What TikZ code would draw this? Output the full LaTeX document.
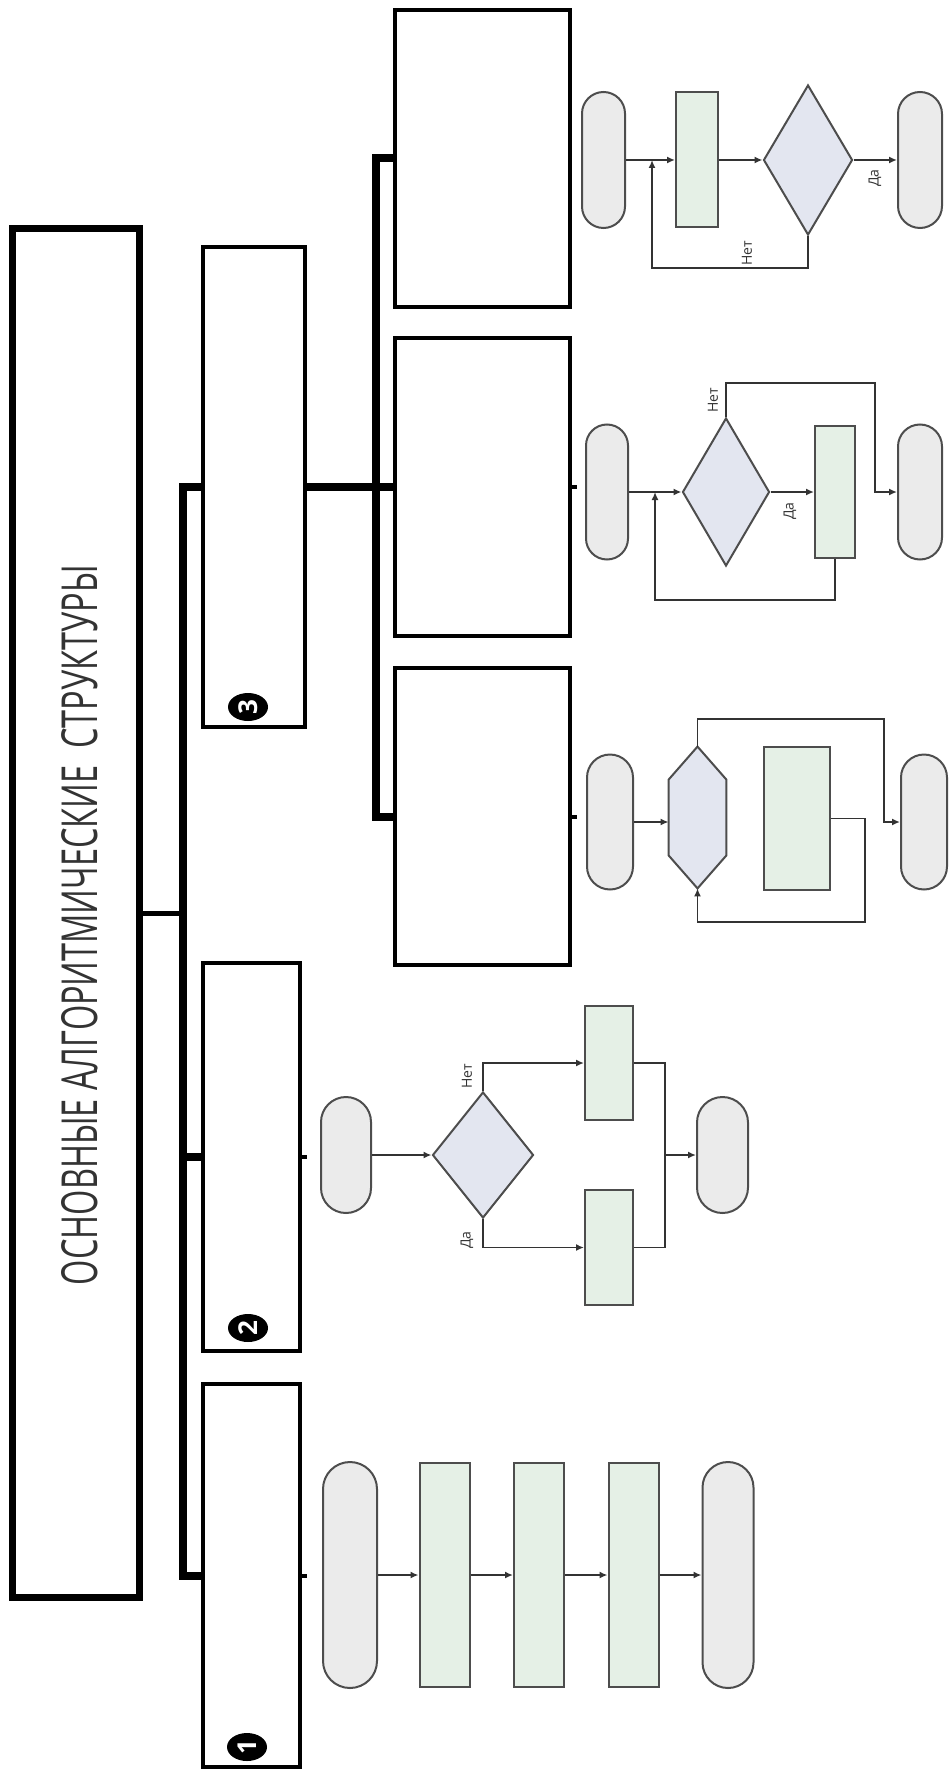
\documentclass[tikz,border=0pt]{standalone}
\usepackage{fontspec}
\usepackage{graphicx}
\setmainfont{Open Sans}
\usetikzlibrary{arrows.meta,shapes.geometric}
\definecolor{termfill}{HTML}{EBEBEB}
\definecolor{procfill}{HTML}{E5F0E6}
\definecolor{condfill}{HTML}{E3E6F0}
\definecolor{shapeline}{HTML}{4D4D4D}
\definecolor{flowline}{HTML}{333333}
\definecolor{titletext}{HTML}{333333}

\tikzset{
	group/.style={draw, line width=2pt, inner sep=0pt},
	bus/.style={line width=4pt},
	term/.style 2 args={draw=shapeline, fill=termfill, line width=1pt, inner sep=0pt,
		minimum width=#1, minimum height=#2, rounded corners=0.5*#1},
	proc/.style 2 args={draw=shapeline, fill=procfill, line width=1pt, inner sep=0pt,
		minimum width=#1, minimum height=#2},
	cond/.style 2 args={diamond, draw=shapeline, fill=condfill, line width=1pt, inner sep=0pt,
		minimum width=#1, minimum height=#2},
	wire/.style={draw=flowline, line width=0.8pt},
	arr/.style={wire, -{Latex[length=4pt,width=3.5pt]}},
	lbl/.style={rotate=90, inner sep=0pt, text=flowline, font=\fontsize{7}{8}\selectfont},
	badge/.style={ellipse, fill=black, text=white, rotate=90, inner sep=0pt,
		minimum width=14pt, minimum height=20pt, font=\fontsize{13}{13}\selectfont\bfseries}
}

\begin{document}
\begin{tikzpicture}[x=0.5pt, y=-0.5pt]
	\useasboundingbox (0,0) rectangle (948,1775);
	% title
	\node[draw, line width=3.5pt, inner sep=0pt, minimum width=63.5pt, minimum height=684pt] (title) at (75.5,913) {};
	\node[rotate=90, inner sep=0pt, text=titletext] (titleText) at (80,925)
		{\resizebox{360pt}{18pt}{ОСНОВНЫЕ АЛГОРИТМИЧЕСКИЕ~ СТРУКТУРЫ}};
	% level 2
	\node[group, minimum width=48.5pt, minimum height=191.5pt] (lvSeq) at (251.5,1575.5) {};
	\node[group, minimum width=48.5pt, minimum height=194pt] (lvBranch) at (251.5,1157) {};
	\node[group, minimum width=51pt, minimum height=240pt] (lvLoop) at (254,487) {};
	\node[badge] (numSeq) at (247,1747) {1};
	\node[badge] (numBranch) at (248,1328) {2};
	\node[badge] (numLoop) at (248,707) {3};
	% level 3
	\foreach \y/\n in {158.5/lvRepeat, 487/lvWhile, 816.5/lvFor}{
		\node[group, minimum width=87.5pt, minimum height=148.5pt] (\n) at (482.5,\y) {};
	}
	% buses
	\coordinate (busA) at (183,913);
	\coordinate (busB) at (376,487);
	\draw[bus] (lvLoop.west) -| (busA) |- (lvSeq.west);
	\draw[bus] (busA |- lvBranch.west) -- (lvBranch.west);
	\draw[line width=2.5pt] (title.east) -- (busA);
	\draw[bus] (lvLoop.east) -- (lvWhile.west);
	\draw[bus] (lvRepeat.west) -| (busB) |- (lvFor.west);
	\foreach \n in {lvSeq, lvBranch, lvWhile, lvFor}{
		\draw[line width=2pt] (\n.east) -- ++(5,0);
	}

	% sequence
	\node[term={27pt}{113pt}] (sqStart) at (350,1575) {};
	\foreach \i in {1,2,3}{
		\node[proc={25pt}{112pt}] (sqP\i) at (350+94.5*\i,1575) {};
	}
	\node[term={25.5pt}{113pt}] (sqEnd) at (728,1575) {};
	\foreach \a/\b in {sqStart/sqP1, sqP1/sqP2, sqP2/sqP3, sqP3/sqEnd}{
		\draw[arr] (\a.east) -- (\b.west);
	}

	% branch
	\node[term={25pt}{58pt}] (brStart) at (346,1155) {};
	\node[cond={50.5pt}{63pt}] (brCond) at (483,1155) {};
	\node[proc={24pt}{57pt}] (brNo) at (609,1063) {};
	\node[proc={24pt}{57.5pt}] (brYes) at (609,1247.5) {};
	\node[term={25.5pt}{58pt}] (brEnd) at (722.5,1155) {};
	\coordinate (brJoin) at (665,1155);
	\draw[arr] (brStart.east) -- (brCond.west);
	\draw[arr] (brCond.north) |- (brNo.west);
	\draw[arr] (brCond.south) |- (brYes.west);
	\draw[wire] (brNo.east) -| (brJoin);
	\draw[wire] (brYes.east) -| (brJoin);
	\draw[arr] (brJoin) -- (brEnd.west);
	\node[lbl] (brNoLbl) at (467,1076) {Нет};
	\node[lbl] (brYesLbl) at (467,1240) {Да};

	% repeat
	\node[term={21.5pt}{68pt}] (rpStart) at (603.5,160) {};
	\node[proc={21pt}{67.5pt}] (rpBody) at (697,160) {};
	\node[cond={44.5pt}{75pt}] (rpCond) at (808,160) {};
	\node[term={22pt}{68pt}] (rpEnd) at (920,160) {};
	\coordinate (rpJoin) at (652,160);
	\coordinate (rpBack) at (652,268);
	\draw[arr] (rpStart.east) -- (rpBody.west);
	\draw[arr] (rpBody.east) -- (rpCond.west);
	\draw[arr] (rpCond.east) -- (rpEnd.west);
	\draw[arr] (rpCond.south) |- (rpBack) -- (rpJoin);
	\node[lbl] (rpYesLbl) at (875,178) {Да};
	\node[lbl] (rpNoLbl) at (747,253) {Нет};

	% while
	\node[term={21pt}{67.5pt}] (whStart) at (607,492) {};
	\node[cond={43.5pt}{74pt}] (whCond) at (726,492) {};
	\node[proc={20pt}{66pt}] (whBody) at (835,492) {};
	\node[term={22pt}{67.5pt}] (whEnd) at (920,492) {};
	\coordinate (whJoin) at (655,492);
	\coordinate (whBack) at (655,600);
	\coordinate (whSkip) at (875,383);
	\draw[arr] (whStart.east) -- (whCond.west);
	\draw[arr] (whCond.east) -- (whBody.west);
	\draw[arr] (whBody.south) |- (whBack) -- (whJoin);
	\draw[arr] (whCond.north) |- (whSkip) |- (whEnd.west);
	\node[lbl] (whNoLbl) at (713,400) {Нет};
	\node[lbl] (whYesLbl) at (790,511) {Да};

	% for
	\node[term={23pt}{67.5pt}] (frStart) at (610,822) {};
	\node[minimum width=28.5pt, minimum height=70.5pt, inner sep=0pt] (frHead) at (697.5,817.5) {};
	\filldraw[draw=shapeline, fill=condfill, line width=1pt] (frHead.north)
		-- ([yshift=-16.5pt]frHead.north east) -- ([yshift=16.5pt]frHead.south east)
		-- (frHead.south) -- ([yshift=16.5pt]frHead.south west)
		-- ([yshift=-16.5pt]frHead.north west) -- cycle;
	\node[proc={33pt}{71.5pt}] (frBody) at (797,818.5) {};
	\node[term={23pt}{67.5pt}] (frEnd) at (924,822) {};
	\coordinate (frBack) at (865,922);
	\coordinate (frSkip) at (884,719);
	\draw[arr] (frStart.east) -- (frStart.east -| frHead.west);
	\draw[arr] (frBody.east) -| (frBack) -| (frHead.south);
	\draw[arr] (frHead.north) |- (frSkip) |- (frEnd.west);
\end{tikzpicture}
\end{document}
